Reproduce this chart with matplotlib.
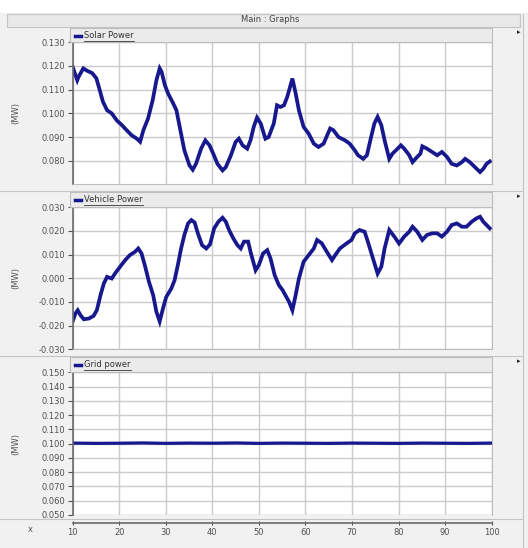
import matplotlib
matplotlib.use('Agg')
import matplotlib.pyplot as plt
from matplotlib.lines import Line2D
from matplotlib.patches import Rectangle

# ---- data ----
solar_x = [10, 11, 11.3, 12.3, 13.1, 14.2, 15.1, 15.8, 16.5, 17.4, 18.4, 19.5, 20.6, 21.6,
           22.7, 23.8, 24.5, 25.2, 26.2, 27.2, 28, 28.7, 29.1, 29.8, 30.5, 31.6, 32.3, 33,
           34, 35.1, 35.8, 36.5, 37.6, 38.5, 39.4, 40.2, 41.1, 42.2, 42.9, 44, 45, 45.7,
           46.5, 47.5, 48.2, 48.9, 49.6, 50.4, 51.4, 52.1, 53.2, 53.9, 54.6, 55.4, 56.1,
           57.2, 57.9, 58.6, 59.6, 60.7, 61.8, 62.8, 63.9, 65.3, 66, 67.1, 68.5, 69.5, 70.6,
           71.3, 72.4, 73.2, 74.1, 74.8, 75.5, 76.3, 77, 78, 78.7, 79.8, 80.5, 81.2, 82.3,
           83, 84, 84.7, 85.1, 86.1, 87.2, 88.3, 89.3, 90.4, 91.4, 92.5, 93.6, 94.3, 95.3,
           96.4, 97.5, 98.2, 98.9, 99.6]
solar_mw = [0.1197, 0.114, 0.1155, 0.119, 0.118, 0.117, 0.1148, 0.110, 0.105, 0.1013, 0.100,
            0.097, 0.095, 0.0929, 0.0907, 0.0893, 0.088, 0.0929, 0.0978, 0.1056, 0.114, 0.119,
            0.1176, 0.112, 0.1084, 0.1042, 0.1013, 0.0943, 0.0844, 0.078, 0.0762, 0.0787,
            0.0851, 0.0886, 0.0865, 0.083, 0.0787, 0.0759, 0.0773, 0.0823, 0.0879, 0.0893,
            0.0865, 0.0851, 0.0886, 0.0943, 0.0982, 0.0957, 0.0893, 0.090, 0.0957, 0.1034,
            0.1027, 0.1034, 0.107, 0.1147, 0.1084, 0.1013, 0.0943, 0.0914, 0.0872, 0.0858,
            0.0872, 0.0936, 0.0929, 0.090, 0.0886, 0.0872, 0.0844, 0.0823, 0.0808, 0.0823,
            0.090, 0.0957, 0.0985, 0.095, 0.0886, 0.0808, 0.083, 0.0851, 0.0865, 0.0851,
            0.0823, 0.0794, 0.0816, 0.083, 0.0861, 0.0851, 0.0837, 0.0823, 0.0837, 0.0816,
            0.0787, 0.078, 0.0794, 0.0808, 0.0794, 0.0773, 0.0752, 0.0766, 0.0787, 0.0797]

vehicle_x = [10.1, 10.6, 11.1, 11.7, 12.4, 13.5, 14.5, 15.2, 16, 16.7, 17.4, 18.4, 19.1, 20.2,
             21.3, 22.3, 23.4, 24.1, 24.8, 25.5, 26.4, 27.3, 28, 28.7, 29.4, 30.1, 31.2, 31.9,
             32.6, 33.3, 34, 34.8, 35.5, 36.2, 36.9, 37.8, 38.7, 39.5, 40.4, 41.3, 42.2, 42.9,
             43.6, 44.5, 45.4, 46.1, 46.8, 47.7, 48.3, 49.3, 50, 50.9, 51.8, 52.5, 53.4, 54.3,
             55.1, 56.5, 57.2, 57.9, 58.6, 59.6, 60.7, 61.8, 62.5, 63.5, 64.6, 65.7, 66.4,
             67.4, 68.8, 69.9, 70.6, 71.6, 72.7, 73.4, 74.5, 75.5, 76.3, 77, 78, 79.1, 80.1,
             81.2, 82.3, 83, 84, 85.1, 86.1, 87.2, 88.3, 89.3, 90.4, 91.4, 92.5, 93.6, 94.6,
             95.7, 96.7, 97.5, 98.2, 98.9, 99.6]
vehicle_mw = [-0.0177, -0.0149, -0.0135, -0.0156, -0.0173, -0.017, -0.0159, -0.0135, -0.0071,
              -0.0022, 0.0006, -0.0001, 0.002, 0.0049, 0.0077, 0.0098, 0.0112, 0.0126, 0.0105,
              0.0056, -0.0015, -0.0071, -0.0142, -0.0182, -0.0128, -0.0079, -0.0043, -0.0008,
              0.0056, 0.0126, 0.0183, 0.0232, 0.0246, 0.0236, 0.019, 0.014, 0.0126, 0.0143,
              0.0211, 0.0239, 0.0256, 0.0239, 0.0204, 0.0169, 0.014, 0.0126, 0.0155, 0.0155,
              0.0105, 0.0034, 0.0056, 0.0105, 0.0119, 0.0084, 0.0013, -0.0029, -0.005, -0.010,
              -0.0135, -0.0071, -0.0001, 0.007, 0.0098, 0.0126, 0.0162, 0.0148, 0.0112, 0.0077,
              0.0098, 0.0126, 0.0147, 0.0162, 0.019, 0.0204, 0.0197, 0.0155, 0.0084, 0.002,
              0.0049, 0.0126, 0.0204, 0.0176, 0.0147, 0.0176, 0.0197, 0.0218, 0.0197, 0.0162,
              0.0183, 0.019, 0.019, 0.0176, 0.0197, 0.0225, 0.0232, 0.0218, 0.0218, 0.0239,
              0.0253, 0.026, 0.0239, 0.0225, 0.0211]

grid_x = [10, 15, 20, 25, 30, 35, 40, 45, 50, 55, 60, 65, 70, 75, 80, 85, 90, 95, 100]
grid_mw = [0.1004, 0.1002, 0.1003, 0.1005, 0.1002, 0.1004, 0.1003, 0.1005, 0.1002, 0.1004,
           0.1003, 0.1002, 0.1004, 0.1003, 0.1002, 0.1004, 0.1003, 0.1002, 0.1004]

titles = ['Solar Power', 'Vehicle Power', 'Grid power']
ylims = [(0.070, 0.130), (-0.030, 0.030), (0.050, 0.150)]
yticks = [[0.08, 0.09, 0.10, 0.11, 0.12, 0.13],
          [-0.03, -0.02, -0.01, 0.0, 0.01, 0.02, 0.03],
          [0.05, 0.06, 0.07, 0.08, 0.09, 0.10, 0.11, 0.12, 0.13, 0.14, 0.15]]
xticks = [10, 20, 30, 40, 50, 60, 70, 80, 90, 100]

# ---- layout (pixels of the 528x548 image) ----
W, H = 528, 548
BG = '#f1f1f1'
LINE = '#17188e'
GRID = '#cbcbcb'
TXT = '#505050'


def rect(l, t, r, b):
    return [l / W, 1 - b / H, (r - l) / W, (b - t) / H]


fig = plt.figure(figsize=(W / 100, H / 100), dpi=100, facecolor=BG)

# white strip on top and title bar
fig.patches.append(Rectangle((0, 1 - 13 / H), 1, 13 / H, transform=fig.transFigure,
                             facecolor='white', edgecolor='none', zorder=0))
fig.patches.append(Rectangle((7 / W, 1 - 27 / H), 513 / W, 13 / H, transform=fig.transFigure,
                             facecolor='#e9e9e9', edgecolor='#c4c4c4', lw=0.8, zorder=0))
fig.text(270 / W, 1 - 20 / H, 'Main : Graphs', fontsize=6, color='#444444',
         ha='center', va='center')

# right edge line
fig.lines.append(Line2D([523 / W, 523 / W], [0, 1 - 14 / H], transform=fig.transFigure,
                        color='#c4c4c4', lw=0.8))

panels = [(42.3, 184.4, 28, 191), (207.3, 349.3, 192, 356), (372.3, 515, 357, 519)]
series = [(solar_x, solar_mw), (vehicle_x, vehicle_mw), (grid_x, grid_mw)]
widths = [2.7, 2.7, 2.3]

renderer = fig.canvas.get_renderer()
axes = []
for i, (top, bot, htop, sep) in enumerate(panels):
    l, r = 72.6, 491.7
    # header strip
    fig.patches.append(Rectangle((70 / W, 1 - top / H), (r - 70) / W, (top - htop) / H,
                                 transform=fig.transFigure, facecolor='#ebebeb',
                                 edgecolor='#bdbdbd', lw=0.8, zorder=0))
    # separator below the panel
    fig.lines.append(Line2D([0, 523 / W], [1 - sep / H, 1 - sep / H], transform=fig.transFigure,
                            color='#c4c4c4', lw=0.8))
    # little arrow at the right
    fig.text(519 / W, 1 - (htop + 4) / H, '\u25b8', fontsize=5, color='#222222',
             ha='center', va='center')

    ax = fig.add_axes(rect(l, top, r, bot))
    ax.set_facecolor('white')
    xs, ys = series[i]
    ax.plot(xs, ys, color=LINE, lw=widths[i], solid_joinstyle='miter')
    ax.set_xlim(10, 100)
    ax.set_ylim(*ylims[i])
    ax.set_yticks(yticks[i])
    ax.set_yticklabels(['%.3f' % v for v in yticks[i]])
    ax.set_xticks(xticks)
    ax.grid(True, color=GRID, lw=1.0)
    ax.set_axisbelow(True)
    for s in ['top', 'right', 'bottom']:
        ax.spines[s].set_color('#bdbdbd')
        ax.spines[s].set_linewidth(0.8)
    ax.spines['left'].set_color('#6a6a6a')
    ax.spines['left'].set_linewidth(1.2)
    ax.tick_params(axis='y', labelsize=6, colors=TXT, length=3.5, width=0.8, pad=2)
    ax.tick_params(axis='x', length=0, labelbottom=False)

    ax.set_ylabel('(MW)', fontsize=6, color=TXT)
    ax.yaxis.set_label_coords(-0.125, 0.5)

    # legend swatch + underlined label in the header
    ymid = 1 - (htop + 7.5) / H
    fig.lines.append(Line2D([75 / W, 81 / W], [ymid, ymid], transform=fig.transFigure,
                            color=LINE, lw=2.5))
    t = fig.text(84 / W, ymid, titles[i], fontsize=6, color='#333333', va='center')
    bb = t.get_window_extent(renderer)
    uy = (bb.y0 - 0.5) / H
    fig.lines.append(Line2D([bb.x0 / W, bb.x1 / W], [uy, uy], transform=fig.transFigure,
                            color='#333333', lw=0.6))
    axes.append(ax)

# bottom x axis on the last panel
ax3 = axes[2]
ax3.spines['bottom'].set_position(('outward', 6))
ax3.spines['bottom'].set_color('#6a6a6a')
ax3.spines['bottom'].set_linewidth(1.2)
ax3.tick_params(axis='x', length=3, width=0.8, direction='inout', labelbottom=True,
                labelsize=6, colors=TXT, pad=2)
ax3.set_xticklabels([str(v) for v in xticks])
ax3.axhline(0.050, color='#bdbdbd', lw=0.8)
fig.text(30 / W, 1 - 530 / H, 'x', fontsize=6, color=TXT, ha='center', va='center')

plt.savefig('out.png', dpi=100, facecolor=BG)
